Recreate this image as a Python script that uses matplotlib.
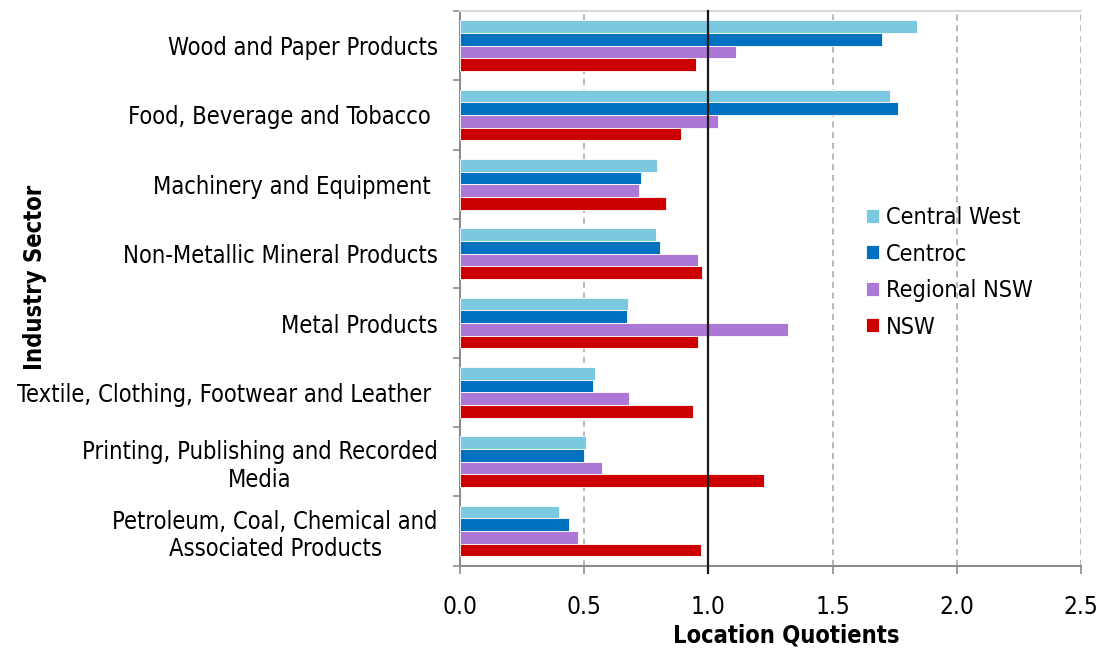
import matplotlib
matplotlib.use("Agg")
import matplotlib.pyplot as plt
import numpy as np

plt.rcParams["font.family"] = ["DejaVu Sans"]
plt.rcParams["font.stretch"] = "condensed"

# Manufacturing sub-sectors, top to bottom
sectors = [
    "Wood and Paper Products",
    "Food, Beverage and Tobacco ",
    "Machinery and Equipment ",
    "Non-Metallic Mineral Products",
    "Metal Products",
    "Textile, Clothing, Footwear and Leather ",
    "Printing, Publishing and Recorded\nMedia",
    "Petroleum, Coal, Chemical and\nAssociated Products",
]

series_names = ["Central West", "Centroc", "Regional NSW", "NSW"]

# Location quotients per region
central_west = [1.84, 1.73, 0.795, 0.79, 0.677, 0.543, 0.507, 0.398]
centroc = [1.70, 1.765, 0.73, 0.805, 0.672, 0.538, 0.50, 0.44]
regional_nsw = [1.11, 1.04, 0.72, 0.96, 1.32, 0.68, 0.574, 0.476]
nsw = [0.95, 0.89, 0.83, 0.976, 0.96, 0.94, 1.223, 0.971]

x_ticks = [0.0, 0.5, 1.0, 1.5, 2.0, 2.5]
x_tick_labels = ["0.0", "0.5", "1.0", "1.5", "2.0", "2.5"]
reference_lq = 1.0

series = [central_west, centroc, regional_nsw, nsw]
colors = ["#7AC9E0", "#0070C0", "#AD77D5", "#CC0000"]

fig = plt.figure(figsize=(11.09, 6.5), dpi=100)
ax = fig.add_axes([0.4145, 0.1297, 0.5603, 0.8534])

y = np.arange(len(sectors))
bar_h = 0.182
for k, (vals, name, col) in enumerate(zip(series, series_names, colors)):
    ax.barh(y + (k - 1.5) * bar_h, vals, height=bar_h, color=col,
            edgecolor="white", linewidth=0.6, zorder=3, label=name)

ax.set_xlim(x_ticks[0], x_ticks[-1])
ax.set_ylim(len(sectors) - 0.5, -0.5)

# dashed vertical gridlines
ax.xaxis.grid(True, color="#A6A6A6", linewidth=1.1, linestyle=(0, (4, 3)), zorder=1)
ax.set_axisbelow(True)

# solid marker line at LQ = 1
ax.axvline(reference_lq, ymin=-0.0135, ymax=1, color="#1A1A1A", lw=1.6,
           zorder=4, clip_on=False)

for side in ["left", "bottom"]:
    ax.spines[side].set_color("#8C8C8C")
    ax.spines[side].set_linewidth(1.5)
ax.spines["top"].set_color("#D9D9D9")
ax.spines["top"].set_linewidth(1.5)
ax.spines["right"].set_visible(False)

# category boundaries carry the tick marks, centres carry the labels
ax.set_yticks(np.arange(-0.5, len(sectors) + 0.5, 1.0))
ax.set_yticklabels([])
ax.set_yticks(y, minor=True)
ax.set_yticklabels(sectors, minor=True, ha="right", multialignment="center")
ax.tick_params(axis="y", which="major", length=5.4, width=1.2,
               color="#8C8C8C", direction="out")
ax.tick_params(axis="y", which="minor", length=0, pad=15.8, labelsize=17)

ax.set_xticks(x_ticks, x_tick_labels)
ax.tick_params(axis="x", which="major", length=5.4, width=1.2,
               color="#8C8C8C", direction="out", pad=16, labelsize=17.5)

fig.text(35 / 1109, 1 - 277 / 650, "Industry Sector", rotation=90,
         ha="center", va="center", fontweight="bold", fontsize=17)
fig.text(786 / 1109, 1 - 636 / 650, "Location Quotients",
         ha="center", va="center", fontweight="bold", fontsize=17)

ax.legend(loc="upper left", bbox_to_anchor=(866 / 1109, 1 - 206 / 650),
          bbox_transform=fig.transFigure, frameon=False, fontsize=16.8,
          handlelength=0.55, handleheight=0.55, handletextpad=0.3,
          labelspacing=0.58, borderpad=0, borderaxespad=0)

fig.savefig("out.png", dpi=100)
